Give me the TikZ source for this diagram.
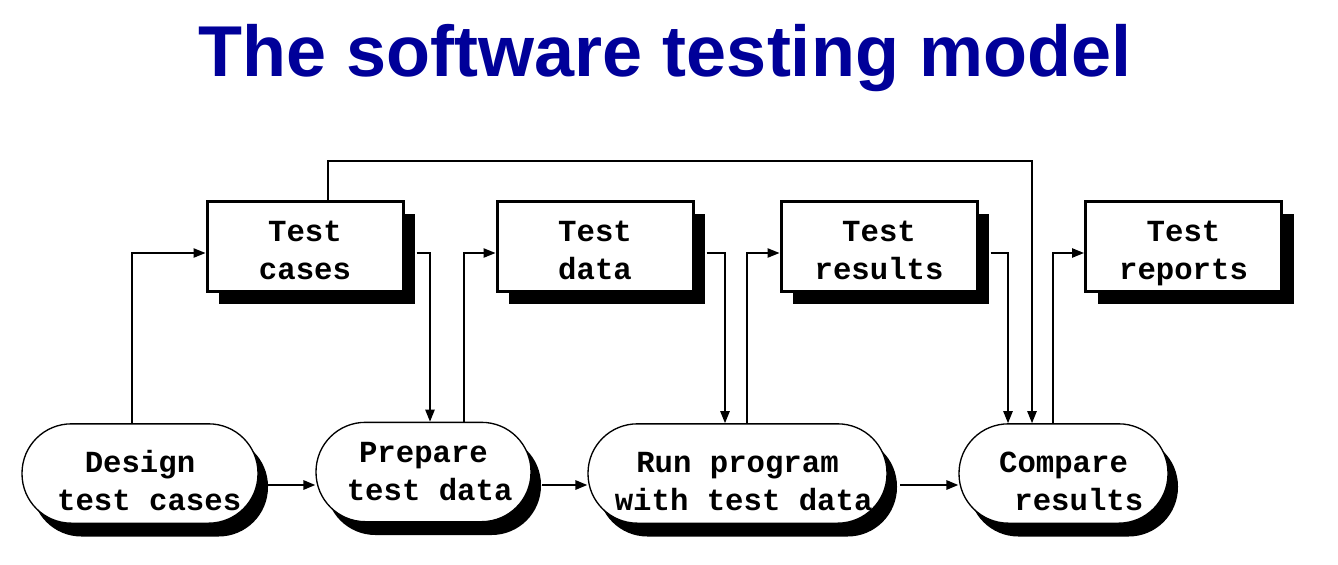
\documentclass[tikz,border=0pt]{standalone}
\usepackage{fontspec}
\setsansfont{Liberation Sans}
\setmonofont{Liberation Mono}
\usetikzlibrary{calc,shadows,arrows.meta}
\definecolor{titleblue}{RGB}{0,0,153}
% extra room above the first line of a label
\newcommand{\toproom}[1]{\rule{0pt}{#1}}
\begin{document}
\begin{tikzpicture}[x=0.75pt,y=-0.75pt,
  every node/.style={font=\ttfamily\bfseries\fontsize{23}{28.5}\selectfont, align=center},
  store/.style={draw, line width=2.25pt, fill=white, minimum width=147pt, minimum height=67.5pt,
    inner sep=0pt, execute at end node={\strut},
    drop shadow={opacity=1, fill=black, shadow xshift=9pt, shadow yshift=-9.75pt}},
  proc/.style={draw, line width=1pt, fill=white, rounded corners=37pt, minimum height=74.5pt,
    inner sep=0pt,
    drop shadow={opacity=1, fill=black, shadow xshift=7.5pt, shadow yshift=-10pt}},
  conn/.style={line width=1.1pt, -{Triangle[length=9pt,width=7pt]}},
  flow/.style={line width=1.6pt, -{Triangle[length=9pt,width=7pt]}}]
\useasboundingbox (0,0) rectangle (1338,564);

% title
\node[font=\sffamily\bfseries\fontsize{54}{60}\selectfont, text=titleblue, anchor=base] (title) at (665,76)
  {The software testing model};

% data stores
\node[store] (tc)  at (305,246)    {\toproom{30pt}Test\\cases};
\node[store] (td)  at (595,246)    {\toproom{30pt}Test\\data};
\node[store] (tr)  at (879,246)    {\toproom{30pt}Test\\results};
\node[store] (rep) at (1183.5,246) {\toproom{30pt}Test\\reports};

% activities
\node[proc, minimum width=177pt]   (design) at (140,473.5)
  {\toproom{27pt}Design\\\hspace*{0.6em}test cases};
\node[proc, minimum width=161.25pt] (prep)  at (423.5,472)
  {Prepare\\\hspace*{0.4em}test data};
\node[proc, minimum width=224.25pt] (run)   at (737.5,473.5)
  {\toproom{27pt}Run program\\\hspace*{0.4em}with test data};
\node[proc, minimum width=156.75pt] (cmp)   at (1063.5,473.5)
  {\toproom{27pt}Compare\\\hspace*{1em}results};

\coordinate (topbend) at (1032,161);

% data flow between activities and stores
\draw[conn] (design.north -| 132,0) |- ($(tc.west)+(0,7)$);
\draw[conn] ($(tc.east)+(12,7)$) -| (prep.north -| 430,0);
\draw[conn] (prep.north -| 464,0) |- ($(td.west)+(0,7)$);
\draw[conn] ($(td.east)+(12,7)$) -| (run.north -| 725,0);
\draw[conn] (run.north -| 747,0) |- ($(tr.west)+(0,7)$);
\draw[conn] ($(tr.east)+(12,7)$) -| (cmp.north -| 1008,0);
\draw[conn] (tc.north -| 328,0) |- (topbend) -- (cmp.north -| topbend);
\draw[conn] (cmp.north -| 1053,0) |- ($(rep.west)+(0,7)$);

% sequence of activities
\draw[flow] (268,485) -- (prep.west |- 0,485);
\draw[flow] (542,485) -- (run.west |- 0,485);
\draw[flow] (900,485) -- (cmp.west |- 0,485);
\end{tikzpicture}
\end{document}
